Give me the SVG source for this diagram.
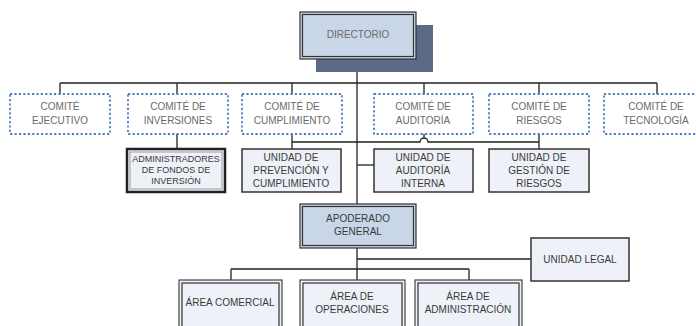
<svg xmlns="http://www.w3.org/2000/svg" width="696" height="326" viewBox="0 0 696 326">
<style>
.c{fill:#fff;stroke:#4f7fc0;stroke-width:1.8;stroke-dasharray:2.2 2.2}
.u{fill:#eef1f7;stroke:#333;stroke-width:1.5}
.dbl{fill:#c9d6e7;stroke:#333;stroke-width:1.2}
.dbl2{fill:none;stroke:#333;stroke-width:1.2}
.ar{fill:#eef1f7;stroke:#444;stroke-width:1.2}
.ln{fill:none;stroke:#222;stroke-width:1.3}
text{font-family:"Liberation Sans",Arial,sans-serif;font-size:10px;text-anchor:middle}
.tc{fill:#6a6a6a}
.tu{fill:#3a3a3a}
.sm{font-size:9px}
</style>
<rect width="696" height="326" fill="#fff"/>
<g id="connectors">
<path class="ln" d="M357 59V204M357 248V280"/>
<path class="ln" d="M60 83H657M60 83V94M177 83V94M292 83V94M424 83V94M539 83V94M657 83V94"/>
<path class="ln" d="M177 134V149"/>
<path class="ln" d="M292 134V149M292 142H420A4 4 0 0 1 428 142H539M539 134V149M424 134V138"/>
<path class="ln" d="M357 165H374"/>
<path class="ln" d="M357 259H531"/>
<path class="ln" d="M231 269H469M231 269V280M469 269V280"/>
</g>
<g id="directorio">
<rect x="316" y="25" width="117" height="47" fill="#5b6b86"/>
<rect x="300" y="12" width="116" height="47" class="dbl"/>
<rect x="302.5" y="14.5" width="111" height="42" class="dbl2"/>
<text x="358" y="38" class="tc">DIRECTORIO</text>
</g>
<g id="comite-ejecutivo"><rect x="10" y="94" width="100" height="40" class="c"/><text x="60" y="110" class="tc">COMITÉ</text><text x="60" y="124" class="tc">EJECUTIVO</text></g>
<g id="comite-inversiones"><rect x="128" y="94" width="100" height="40" class="c"/><text x="178" y="110" class="tc">COMITÉ DE</text><text x="178" y="124" class="tc">INVERSIONES</text></g>
<g id="comite-cumplimiento"><rect x="242" y="94" width="100" height="40" class="c"/><text x="292" y="110" class="tc">COMITÉ DE</text><text x="292" y="124" class="tc">CUMPLIMIENTO</text></g>
<g id="comite-auditoria"><rect x="374" y="94" width="99" height="40" class="c"/><text x="423" y="110" class="tc">COMITÉ DE</text><text x="423" y="124" class="tc">AUDITORÍA</text></g>
<g id="comite-riesgos"><rect x="489" y="94" width="100" height="40" class="c"/><text x="539" y="110" class="tc">COMITÉ DE</text><text x="539" y="124" class="tc">RIESGOS</text></g>
<g id="comite-tecnologia"><rect x="604" y="94" width="96" height="40" class="c"/><text x="656" y="110" class="tc">COMITÉ DE</text><text x="656" y="124" class="tc">TECNOLOGÍA</text></g>
<g id="administradores"><rect x="127" y="149" width="98" height="43" fill="#eef1f7" stroke="#222" stroke-width="2.5"/><rect x="130" y="152" width="92" height="37" fill="none" stroke="#888" stroke-width="0.8"/><text x="176" y="162" class="tu sm">ADMINISTRADORES</text><text x="176" y="173" class="tu sm">DE FONDOS DE</text><text x="176" y="184" class="tu sm">INVERSIÓN</text></g>
<g id="unidad-prevencion"><rect x="242" y="149" width="99" height="43" class="u"/><text x="291" y="161" class="tu">UNIDAD DE</text><text x="291" y="174" class="tu">PREVENCIÓN Y</text><text x="291" y="187" class="tu">CUMPLIMIENTO</text></g>
<g id="unidad-auditoria"><rect x="374" y="149" width="99" height="43" class="u"/><text x="423" y="161" class="tu">UNIDAD DE</text><text x="423" y="174" class="tu">AUDITORÍA</text><text x="423" y="187" class="tu">INTERNA</text></g>
<g id="unidad-riesgos"><rect x="489" y="149" width="100" height="43" class="u"/><text x="539" y="161" class="tu">UNIDAD DE</text><text x="539" y="174" class="tu">GESTIÓN DE</text><text x="539" y="187" class="tu">RIESGOS</text></g>
<g id="apoderado"><rect x="300" y="204" width="116" height="44" class="dbl"/><rect x="302.5" y="206.5" width="111" height="39" class="dbl2"/><text x="358" y="222" class="tu">APODERADO</text><text x="358" y="235" class="tu">GENERAL</text></g>
<g id="unidad-legal"><rect x="531" y="238" width="98" height="43" class="u"/><text x="580" y="263" class="tu">UNIDAD LEGAL</text></g>
<g id="area-comercial"><rect x="179" y="280" width="103" height="50" class="ar"/><rect x="182" y="283" width="97" height="47" class="dbl2"/><text x="230" y="306" class="tu">ÁREA COMERCIAL</text></g>
<g id="area-operaciones"><rect x="300" y="280" width="105" height="50" class="ar"/><rect x="303" y="283" width="99" height="47" class="dbl2"/><text x="352" y="300" class="tu">ÁREA DE</text><text x="352" y="313" class="tu">OPERACIONES</text></g>
<g id="area-administracion"><rect x="415" y="280" width="107" height="50" class="ar"/><rect x="418" y="283" width="101" height="47" class="dbl2"/><text x="468" y="300" class="tu">ÁREA DE</text><text x="468" y="313" class="tu">ADMINISTRACIÓN</text></g>
</svg>
